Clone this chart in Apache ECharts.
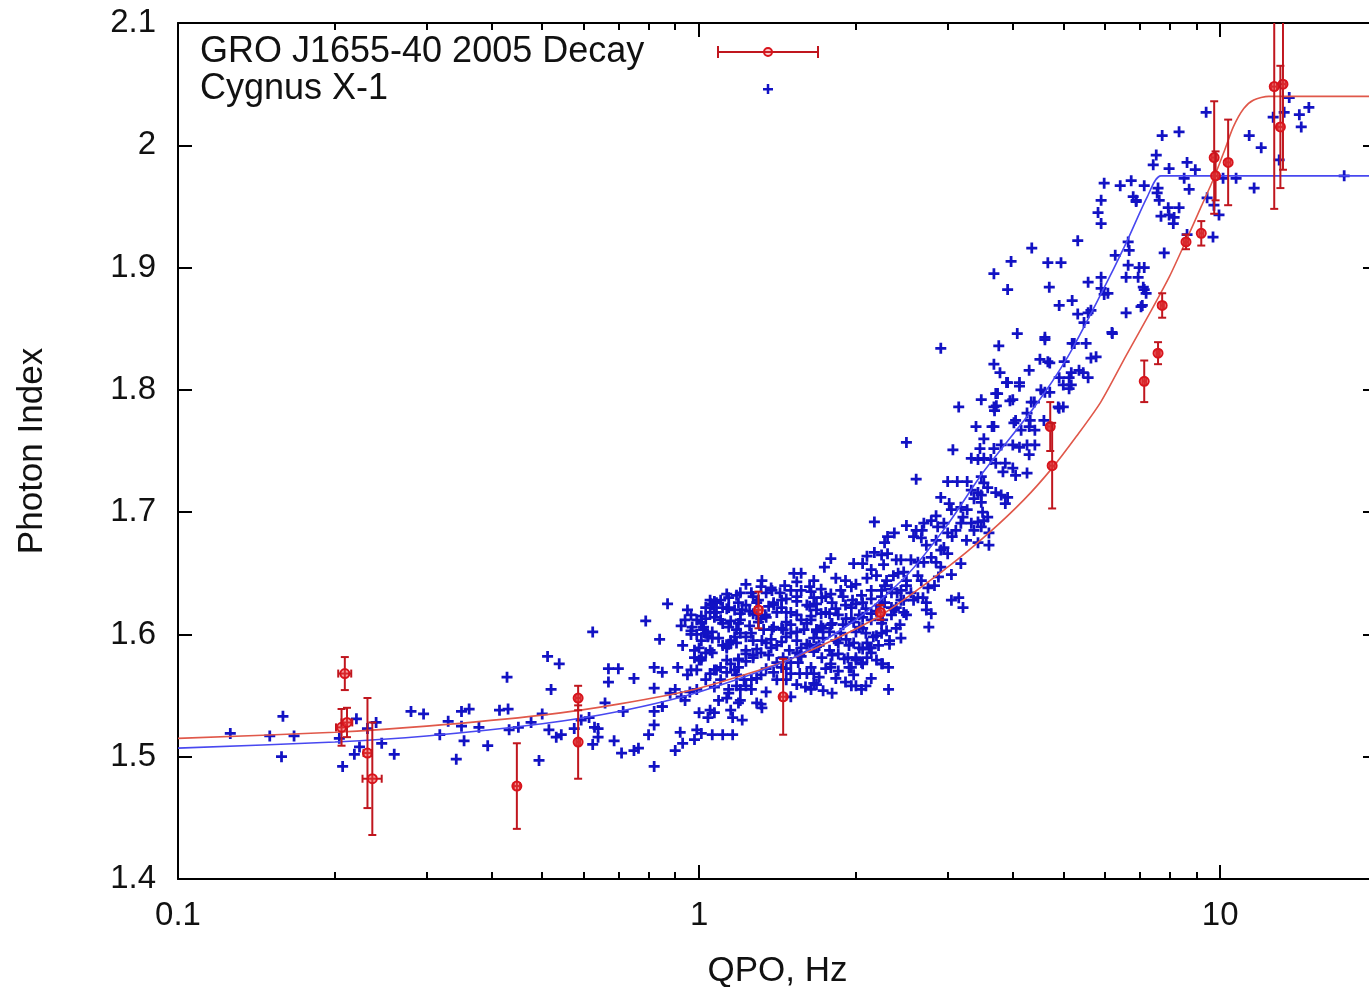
<!DOCTYPE html>
<html><head><meta charset="utf-8">
<script src="https://cdn.jsdelivr.net/npm/echarts@6/dist/echarts.min.js"></script>
<style>html,body{margin:0;padding:0;background:#fff}#c{width:1369px;height:987px}</style>
</head><body><div id="c"></div>
<script>
const FONT = '"Liberation Sans", Arial, Helvetica, sans-serif';
const xTickLabels = [0.1, 1, 10];
const xMinorTicks = [0.2,0.3,0.4,0.5,0.6,0.7,0.8,0.9,2,3,4,5,6,7,8,9];
const yTickLabels = [1.4,1.5,1.6,1.7,1.8,1.9,2.0,2.1];
const seriesNames = ['GRO J1655-40 2005 Decay', 'Cygnus X-1'];

// GRO J1655-40 2005 decay: QPO (Hz), photon index, and their errors
const groQpo      = [0.209,0.206,0.211,0.231,0.236,0.447,0.586,0.586,1.30,1.45,2.23,4.72,4.76,7.15,7.60,7.74,8.60,9.20,9.74,9.80,10.36,12.7,13.2,13.05];
const groIndex    = [1.568,1.524,1.528,1.503,1.482,1.476,1.548,1.512,1.620,1.549,1.618,1.770,1.738,1.807,1.830,1.869,1.921,1.928,1.990,1.975,1.986,2.048,2.050,2.015];
const groQpoErr   = [0.006,0.005,0.005,0.004,0.010,0.006,0.006,0.005,0.02,0.02,0.03,0.05,0.05,0.06,0.06,0.06,0.08,0.08,0.10,0.10,0.10,0.15,0.15,0.15];
const groIndexErr = [0.0135,0.015,0.012,0.045,0.046,0.035,0.010,0.030,0.015,0.031,0.006,0.020,0.035,0.017,0.009,0.010,0.006,0.010,0.046,0.020,0.035,0.100,0.070,0.050];

// Cygnus X-1 points [QPO Hz, photon index]
const cygnusPoints = [
[0.126,1.519],[0.150,1.517],[0.167,1.517],[0.159,1.533],[0.158,1.500],[0.204,1.515],[0.207,1.492],[0.220,1.531],[0.218,1.502],[0.223,1.508],[0.231,1.523],[0.240,1.528],[0.246,1.511],[0.260,1.502],[0.280,1.537],[0.296,1.535],[0.318,1.518],[0.330,1.529],[0.342,1.498],[0.350,1.537],[0.362,1.539],[0.350,1.525],[0.354,1.513],[0.378,1.524],[0.393,1.509],
[0.428,1.565],[0.414,1.538],[0.430,1.539],[0.432,1.522],[0.450,1.524],[0.476,1.528],[0.500,1.535],[0.493,1.497],[0.512,1.582],[0.539,1.576],[0.520,1.555],[0.515,1.522],[0.532,1.516],[0.544,1.518],[0.625,1.602],[0.670,1.572],[0.700,1.572],[0.670,1.561],[0.750,1.564],[0.594,1.530],[0.615,1.532],[0.630,1.524],[0.640,1.523],[0.640,1.516],[0.576,1.523],[0.625,1.510],[0.687,1.513],[0.660,1.544],[0.715,1.537],[0.710,1.503],[0.750,1.505],[0.765,1.507],[0.820,1.492],[0.800,1.518],[0.820,1.526],[0.820,1.537],[0.850,1.541],[0.790,1.611],[0.840,1.596],[0.870,1.625],[0.820,1.573],[0.850,1.569],[0.820,1.556],[0.920,1.520],[0.990,1.522],[1.010,1.519],[1.060,1.518],[1.110,1.518],[1.160,1.518],[0.930,1.511],[0.980,1.514],[0.900,1.505],[1.070,1.627],[1.070,1.618],[0.950,1.620],[0.940,1.612],[1.020,1.606],[1.040,1.598],[0.930,1.591],[0.980,1.587],[1.000,1.579],[0.910,1.573],[0.950,1.567],
[0.924,1.607],[0.965,1.616],[1.01,1.595],[1.05,1.587],[1.10,1.612],[1.15,1.595],[1.13,1.579],[1.08,1.571],[1.03,1.563],[0.99,1.555],[0.94,1.546],[0.90,1.555],[0.965,1.571],[1.01,1.579],[1.06,1.602],[1.11,1.591],[1.18,1.567],[1.20,1.546],[1.14,1.555],[1.09,1.546],[1.05,1.538],[1.00,1.536],[1.21,1.530],[1.15,1.538],[1.26,1.555],[1.23,1.624],[1.05,1.628],[1.14,1.622],[1.17,1.620],[1.02,1.604],[1.04,1.599],[1.20,1.617],[1.17,1.598],[1.13,1.589],[0.98,1.581],[0.99,1.571],[1.07,1.571],[1.22,1.563],[1.07,1.557],[1.14,1.552],[1.19,1.544],[1.07,1.536],[1.04,1.532],[1.16,1.532],[0.924,1.549],[0.96,1.553],[0.88,1.552],[0.85,1.541],
[1.46,1.640],[1.32,1.644],[1.52,1.650],[1.57,1.650],[1.74,1.655],[1.79,1.662],[1.98,1.658],[2.06,1.658],[2.10,1.664],[2.17,1.667],[2.68,1.685],[2.73,1.626],[2.76,1.606],[2.44,1.597],[2.31,1.573],[2.25,1.576],[2.19,1.579],[2.10,1.581],[2.10,1.593],[2.00,1.579],[2.06,1.576],[1.93,1.581],[1.96,1.573],[1.98,1.567],[1.96,1.558],[1.91,1.561],[1.80,1.583],[1.79,1.573],[1.72,1.581],[1.64,1.573],[1.66,1.568],[1.66,1.560],[1.56,1.568],[1.60,1.557],[1.64,1.555],[1.80,1.552],[2.05,1.555],[2.31,1.555],[2.47,1.618],[2.40,1.634],[1.29,1.544],[1.32,1.540],[1.20,1.555],[1.26,1.563],[1.47,1.563],[1.50,1.568],[1.55,1.577],[1.44,1.573],[1.17,1.571],
[1.18,1.632],[1.21,1.620],[1.25,1.607],[1.27,1.595],[1.23,1.587],[1.19,1.579],[1.30,1.628],[1.34,1.616],[1.38,1.604],[1.41,1.591],[1.36,1.583],[1.32,1.595],[1.44,1.628],[1.47,1.618],[1.50,1.608],[1.54,1.595],[1.49,1.587],[1.57,1.636],[1.61,1.624],[1.64,1.612],[1.68,1.602],[1.63,1.591],[1.72,1.630],[1.75,1.618],[1.79,1.608],[1.83,1.595],[1.78,1.587],[1.87,1.636],[1.91,1.624],[1.96,1.613],[2.00,1.602],[1.94,1.591],[2.05,1.632],[2.09,1.621],[2.14,1.612],[2.19,1.599],[2.12,1.589],[2.24,1.636],[2.27,1.626],[2.34,1.616],[2.39,1.605],[2.32,1.595],[2.44,1.628],[2.50,1.616],[2.43,1.608],
[1.20,1.612],[1.29,1.616],[1.39,1.624],[1.54,1.616],[1.68,1.620],[1.85,1.616],[2.03,1.616],[2.22,1.624],[1.33,1.604],[1.45,1.604],[1.59,1.604],[1.73,1.605],[1.89,1.608],[2.06,1.605],[2.25,1.612],[1.27,1.583],[1.56,1.583],[1.70,1.591],[2.03,1.589],[2.21,1.591],[1.66,1.630],[1.80,1.626],[1.97,1.628],[2.14,1.636],[1.50,1.636],[1.38,1.636],[1.26,1.634],[1.91,1.644],[2.10,1.646],[1.66,1.644],[2.36,1.648],
[1.054,1.625],[1.13,1.633],[1.23,1.641],[1.375,1.638],[1.54,1.643],[1.715,1.637],[1.83,1.646],[2.00,1.641],[2.19,1.648],
[0.99,1.612],[1.08,1.626],[1.14,1.630],[1.345,1.634],[1.47,1.629],[1.64,1.635],[1.75,1.631],[2.14,1.629],[2.34,1.637],
[0.965,1.600],[1.01,1.615],[1.13,1.621],[1.29,1.626],[1.44,1.622],[1.54,1.627],[1.83,1.621],[2.00,1.625],[2.34,1.622],
[1.03,1.613],[1.08,1.618],[1.15,1.611],[1.25,1.619],[1.315,1.613],[1.41,1.618],[1.57,1.612],[1.715,1.617],[1.915,1.613],[2.19,1.619],
[0.965,1.603],[1.11,1.609],[1.18,1.604],[1.30,1.610],[1.44,1.605],[1.61,1.609],[1.68,1.604],[1.98,1.610],[2.29,1.603],
[1.09,1.597],[1.20,1.601],[1.375,1.596],[1.50,1.601],[1.66,1.597],[1.78,1.602],[1.915,1.596],[2.09,1.601],
[1.00,1.589],[1.18,1.593],[1.29,1.588],[1.44,1.594],[1.57,1.589],[1.85,1.593],[2.06,1.588],[2.32,1.592],
[1.06,1.585],[1.19,1.580],[1.315,1.585],[1.45,1.581],[1.66,1.586],[1.90,1.580],[2.14,1.585],
[1.10,1.573],[1.23,1.578],[1.345,1.572],[1.50,1.577],[1.75,1.572],[2.05,1.577],
[1.13,1.569],[1.29,1.564],[1.39,1.569],[1.70,1.565],[1.85,1.570],[2.14,1.564],
[1.23,1.558],[1.345,1.553],[1.54,1.559],[1.73,1.554],[2.00,1.558],
[1.13,1.548],[1.315,1.543],[1.50,1.549],
[1.03,1.622],[1.10,1.628],[1.20,1.634],[1.315,1.639],[1.43,1.634],[1.63,1.639],[1.79,1.633],[1.96,1.639],[2.29,1.644],
[1.01,1.610],[1.06,1.624],[1.19,1.626],[1.27,1.631],[1.39,1.626],[1.54,1.631],[1.68,1.625],[1.89,1.631],[2.06,1.626],[2.24,1.631],
[0.99,1.600],[1.05,1.618],[1.11,1.622],[1.27,1.617],[1.36,1.623],[1.50,1.618],[1.63,1.623],[1.78,1.617],[1.96,1.622],[2.14,1.617],[2.39,1.622],
[1.01,1.609],[1.07,1.614],[1.19,1.609],[1.345,1.614],[1.47,1.610],[1.64,1.615],[1.80,1.609],[2.06,1.614],[2.24,1.609],
[0.97,1.606],[1.03,1.601],[1.14,1.606],[1.26,1.601],[1.39,1.606],[1.54,1.602],[1.715,1.607],[1.87,1.601],[2.03,1.606],[2.24,1.601],
[1.06,1.597],[1.14,1.592],[1.23,1.598],[1.345,1.593],[1.47,1.598],[1.61,1.592],[1.73,1.597],[1.98,1.593],[2.16,1.598],
[1.03,1.585],[1.13,1.590],[1.23,1.584],[1.375,1.589],[1.54,1.585],[1.68,1.590],[1.85,1.584],[2.14,1.589],
[1.01,1.581],[1.15,1.576],[1.27,1.581],[1.41,1.577],[1.57,1.582],[1.79,1.576],[2.00,1.581],[2.24,1.576],
[1.05,1.568],[1.19,1.573],[1.315,1.567],[1.47,1.572],[1.61,1.568],[1.94,1.573],
[1.10,1.563],[1.18,1.558],[1.41,1.563],[1.68,1.559],[1.83,1.564],[2.09,1.558],
[2.50,1.689],[2.61,1.685],[2.85,1.697],[3.05,1.702],[3.11,1.685],[3.26,1.677],[2.91,1.669],[2.73,1.673],[3.05,1.649],[2.50,1.640],[2.39,1.661],[2.14,1.653],[2.24,1.665],
[3.89,1.806],[4.12,1.803],[3.74,1.797],[3.72,1.787],[3.48,1.792],[3.15,1.786],[3.95,1.791],[3.69,1.783],[4.61,1.798],[5.00,1.804],[5.18,1.804],[4.91,1.785],[4.02,1.773],[3.40,1.770],[3.68,1.770],[3.52,1.760],[3.07,1.751],[2.50,1.757],[3.46,1.752],[3.68,1.752],[4.12,1.753],[4.41,1.755],[3.33,1.744],[3.43,1.743],[3.52,1.744],[3.63,1.743],[3.71,1.740],[3.87,1.740],[3.83,1.733],[4.00,1.736],[4.05,1.730],[2.61,1.727],[3.00,1.725],[3.13,1.725],[3.27,1.725],[3.48,1.729],[3.52,1.724],[3.58,1.720],[3.33,1.718],[3.43,1.716],[3.48,1.714],[3.37,1.711],[3.48,1.708],[3.71,1.716],[3.80,1.714],[3.91,1.712],[3.87,1.707],[2.91,1.712],[3.02,1.707],[3.18,1.704],[3.27,1.702],[3.21,1.696],[3.50,1.700],[3.58,1.696],[2.70,1.691],[2.79,1.693],[2.87,1.688],[2.95,1.691],[3.00,1.683],[3.06,1.680],[3.18,1.691],[3.33,1.691],[3.43,1.692],[3.52,1.693],[3.37,1.685],[3.48,1.688],[2.85,1.677],[2.95,1.671],[3.00,1.666],[2.58,1.680],[2.67,1.679],[2.37,1.683],[2.30,1.680],[2.27,1.675],[2.44,1.661],[2.55,1.661],[2.63,1.659],[2.70,1.659],[2.79,1.663],[2.85,1.659],[2.91,1.655],[3.18,1.658],[3.43,1.675],[3.60,1.683],[3.60,1.673],[2.30,1.666],[2.26,1.657],[2.41,1.650],[2.47,1.651],[2.50,1.644],[2.63,1.648],[2.67,1.644],[2.88,1.647],[2.83,1.640],[2.75,1.638],[2.55,1.634],[2.58,1.628],[2.63,1.630],[2.69,1.630],[2.44,1.636],[2.47,1.628],[2.27,1.640],[2.34,1.634],[3.05,1.628],[3.15,1.630],[3.21,1.622],[2.73,1.620],[2.79,1.617],[2.37,1.620],[2.91,1.834],[2.17,1.692],
[5.83,1.945],[5.91,1.936],[6.90,1.954],[8.16,1.941],[5.33,1.922],[4.35,1.916],[3.97,1.905],[4.67,1.904],[4.95,1.904],[3.68,1.895],[3.91,1.882],[4.70,1.884],[5.58,1.888],[5.91,1.883],[7.15,1.882],[7.09,1.869],[5.20,1.873],[4.91,1.869],[5.33,1.862],[5.58,1.863],[5.65,1.865],[5.48,1.855],[6.21,1.846],[4.08,1.846],[3.76,1.836],[4.61,1.843],[5.20,1.838],[5.53,1.838],[3.68,1.821],[4.51,1.825],[4.71,1.822],[5.02,1.823],[5.65,1.826],[5.78,1.827],[3.78,1.814],[3.91,1.806],[4.12,1.806],[4.30,1.816],[5.36,1.816],[5.46,1.814],[4.91,1.810],[5.13,1.810],[5.13,1.801],[4.53,1.800],[4.71,1.798],[3.71,1.797],[4.00,1.792],[3.68,1.786],[4.34,1.790],[4.89,1.786],[5.00,1.786],[4.26,1.781],[4.32,1.775],[4.30,1.770],[4.41,1.767],[4.15,1.767],[4.05,1.775],[3.65,1.770],[4.00,1.755],[4.26,1.755],[4.59,1.775],[3.80,1.755],[4.61,1.841],[5.25,1.838],[4.67,1.823],[5.18,1.814],[5.58,1.810],[4.40,1.790],[4.30,1.747],[4.26,1.732],
[13.57,2.039],[12.64,2.023],[13.27,2.027],[14.19,2.025],[14.8,2.031],[14.31,2.015],[11.37,2.008],[11.99,1.998],[12.98,1.988],[11.62,1.965],[17.3,1.975],[9.40,2.027],[7.74,2.008],[8.34,2.011],[7.54,1.992],[7.44,1.984],[7.98,1.981],[8.64,1.986],[8.96,1.980],[5.99,1.969],[6.43,1.967],[6.75,1.971],[7.15,1.967],[7.60,1.965],[7.57,1.961],[8.53,1.973],[8.72,1.964],[10.13,1.973],[10.73,1.973],[6.81,1.958],[6.90,1.955],[7.64,1.955],[5.91,1.955],[7.95,1.949],[7.98,1.943],[7.70,1.942],[8.34,1.949],[8.13,1.936],[9.44,1.957],[9.73,1.951],[9.95,1.943],[9.69,1.925],[8.64,1.927],[6.66,1.921],[6.69,1.914],[6.29,1.910],[6.66,1.902],[6.99,1.900],[7.15,1.900],[6.60,1.892],[6.96,1.892],[7.12,1.884],[7.21,1.879],[7.81,1.912],[5.91,1.892],[6.09,1.879],[7.05,1.868],[6.60,1.863],[6.20,1.847],[5.99,1.878]
];

// fitted curves [QPO Hz, photon index]
const groFit = [[0.1,1.515],[0.2,1.520],[0.3,1.525],[0.5,1.534],[0.7,1.543],[1.0,1.556],[1.5,1.580],[2.2,1.614],[3.0,1.655],[3.6,1.683],[4.2,1.710],[4.76,1.736],[5.3,1.762],[5.9,1.790],[6.6,1.828],[7.4,1.866],[8.0,1.893],[8.6,1.922],[9.2,1.950],[9.7,1.972],[10.2,1.996],[10.6,2.015],[11.1,2.030],[11.6,2.037],[12.4,2.040],[20,2.040]];
const cygnusFit = [[0.1,1.507],[0.2,1.512],[0.3,1.517],[0.5,1.527],[0.7,1.537],[1.0,1.553],[1.5,1.580],[2.0,1.612],[2.5,1.648],[3.0,1.690],[3.5,1.732],[4.4,1.786],[5.1,1.827],[5.9,1.878],[6.6,1.920],[7.25,1.958],[7.7,1.975],[20,1.975]];

const QPO_MIN = 0.1, QPO_MAX = 20;
const errData = groQpo.map((q, i) => [q, groIndex[i], q - groQpoErr[i], q + groQpoErr[i], groIndex[i] - groIndexErr[i], groIndex[i] + groIndexErr[i]]);
const minorLog = xMinorTicks.map(v => Math.log10(v));

const RED = '#d8141c', BAR = '#c0161e', BLUE = '#1212c4';
const tickStyle = {color: '#000', width: 2};

function majorX(pos, showLabel) {
  return {
    type: 'log', logBase: 10, min: QPO_MIN, max: QPO_MAX, position: pos,
    axisLine: {show: true, onZero: false, lineStyle: tickStyle},
    axisTick: {show: true, inside: true, length: 14, lineStyle: tickStyle},
    axisLabel: {show: showLabel, fontFamily: FONT, fontSize: 33, color: '#111', margin: 20, showMaxLabel: false,
      formatter: v => { const m = xTickLabels.find(t => Math.abs(t - v) < 1e-9 * Math.max(1, v)); return m === undefined ? '' : String(m); }},
    splitLine: {show: false}, minorTick: {show: false},
    name: showLabel ? 'QPO, Hz' : '', nameLocation: 'middle', nameGap: 75,
    nameTextStyle: {fontFamily: FONT, fontSize: 35, color: '#111'}
  };
}
function minorX(pos) {
  return {
    type: 'value', min: Math.log10(QPO_MIN), max: Math.log10(QPO_MAX), position: pos,
    axisLine: {show: false, onZero: false},
    axisTick: {show: true, inside: true, length: 7, customValues: minorLog, lineStyle: tickStyle},
    axisLabel: {show: false}, splitLine: {show: false}
  };
}
function yAx(pos, showLabel) {
  return {
    type: 'value', min: 1.4, max: 2.1, interval: 0.1, position: pos,
    axisLine: {show: true, onZero: false, lineStyle: tickStyle},
    axisTick: {show: true, inside: true, length: 14, lineStyle: tickStyle},
    axisLabel: {show: showLabel, fontFamily: FONT, fontSize: 33, color: '#111', margin: 22,
      formatter: v => { const m = yTickLabels.find(t => Math.abs(t - v) < 1e-6); return m === undefined ? '' : String(m); }},
    splitLine: {show: false},
    name: showLabel ? 'Photon Index' : '', nameLocation: 'middle', nameGap: 128, nameRotate: 90,
    nameTextStyle: {fontFamily: FONT, fontSize: 35, color: '#111'}
  };
}

const chart = echarts.init(document.getElementById('c'), null, {renderer: 'canvas'});
chart.setOption({
  animation: false,
  backgroundColor: '#fff',
  grid: {left: 178, right: -8, top: 23, bottom: 108, containLabel: false, outerBoundsMode: 'none'},
  xAxis: [majorX('bottom', true), minorX('bottom'), majorX('top', false), minorX('top')],
  yAxis: [yAx('left', true), yAx('right', false)],
  series: [
    {
      name: seriesNames[1], type: 'scatter', xAxisIndex: 0, yAxisIndex: 0, data: cygnusPoints,
      symbol: 'path://M3.75,0H6.25V3.75H10V6.25H6.25V10H3.75V6.25H0V3.75H3.75Z', symbolSize: 11,
      itemStyle: {color: BLUE, opacity: 1}, z: 2, silent: true
    },
    {
      name: 'GRO fit', type: 'line', xAxisIndex: 0, yAxisIndex: 0, data: groFit, showSymbol: false, smooth: 0.25,
      lineStyle: {color: '#e0584a', width: 1.6}, z: 3, silent: true
    },
    {
      name: 'Cygnus fit', type: 'line', xAxisIndex: 0, yAxisIndex: 0, data: cygnusFit, showSymbol: false, smooth: 0.25,
      lineStyle: {color: '#4848f0', width: 1.6}, z: 3, silent: true
    },
    {
      name: seriesNames[0], type: 'custom', xAxisIndex: 0, yAxisIndex: 0, data: errData, clip: true, z: 4,
      encode: {x: [0, 2, 3], y: [1, 4, 5]},
      renderItem: function (params, api) {
        const x = api.value(0), y = api.value(1);
        const c = api.coord([x, y]);
        const xl = api.coord([api.value(2), y])[0], xh = api.coord([api.value(3), y])[0];
        const yl = api.coord([x, api.value(4)])[1], yh = api.coord([x, api.value(5)])[1];
        const cap = 4;
        const st = {stroke: BAR, lineWidth: 2, fill: null};
        return {type: 'group', children: [
          {type: 'line', shape: {x1: xl, y1: c[1], x2: xh, y2: c[1]}, style: st},
          {type: 'line', shape: {x1: xl, y1: c[1] - cap, x2: xl, y2: c[1] + cap}, style: st},
          {type: 'line', shape: {x1: xh, y1: c[1] - cap, x2: xh, y2: c[1] + cap}, style: st},
          {type: 'line', shape: {x1: c[0], y1: yl, x2: c[0], y2: yh}, style: st},
          {type: 'line', shape: {x1: c[0] - cap, y1: yl, x2: c[0] + cap, y2: yl}, style: st},
          {type: 'line', shape: {x1: c[0] - cap, y1: yh, x2: c[0] + cap, y2: yh}, style: st},
          {type: 'circle', shape: {cx: c[0], cy: c[1], r: 4.5}, style: {stroke: RED, lineWidth: 2, fill: 'rgba(240,60,60,0.5)'}}
        ]};
      }
    }
  ],
  graphic: {elements: [
    {type: 'text', style: {x: 200, y: 52, text: seriesNames[0], font: '36px ' + FONT, fill: '#111', verticalAlign: 'middle', align: 'left'}},
    {type: 'text', style: {x: 200, y: 89, text: seriesNames[1], font: '36px ' + FONT, fill: '#111', verticalAlign: 'middle', align: 'left'}},
    {type: 'line', shape: {x1: 718, y1: 52, x2: 818, y2: 52}, style: {stroke: BAR, lineWidth: 2}},
    {type: 'line', shape: {x1: 718, y1: 46, x2: 718, y2: 58}, style: {stroke: BAR, lineWidth: 2}},
    {type: 'line', shape: {x1: 818, y1: 46, x2: 818, y2: 58}, style: {stroke: BAR, lineWidth: 2}},
    {type: 'circle', shape: {cx: 768, cy: 52, r: 4}, style: {stroke: RED, lineWidth: 2, fill: 'rgba(240,60,60,0.25)'}},
    {type: 'rect', shape: {x: 763, y: 88, width: 10, height: 2.5}, style: {fill: BLUE}},
    {type: 'rect', shape: {x: 766.75, y: 84, width: 2.5, height: 10}, style: {fill: BLUE}}
  ]}
});
</script></body></html>
